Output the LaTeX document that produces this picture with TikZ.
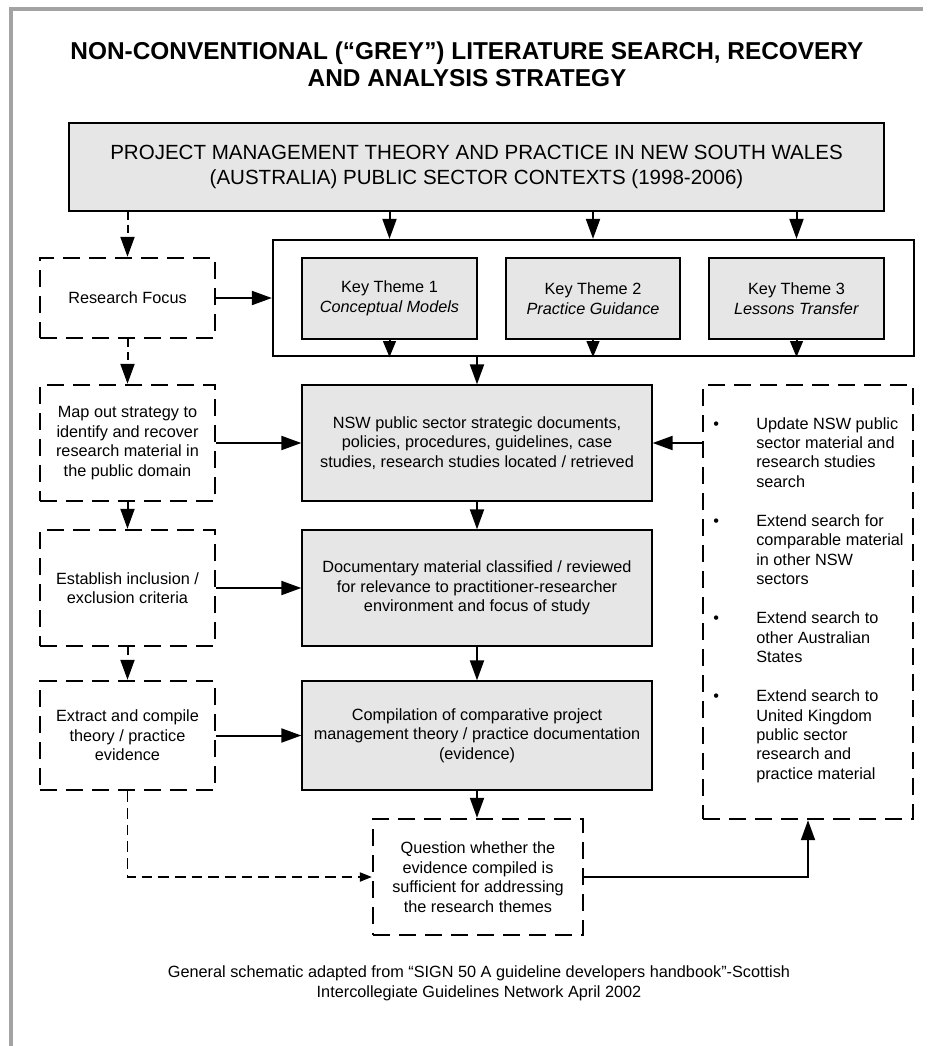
\documentclass[tikz,border=0pt]{standalone}
\usepackage{fontspec}
\setmainfont{Liberation Sans}
\usetikzlibrary{arrows.meta}
\newdimen\pxu \pxu=0.75pt
\definecolor{boxfill}{HTML}{E6E6E6}
\definecolor{framegray}{HTML}{A3A3A3}
\newcommand\bul{\llap{\makebox[43\pxu][l]{•}}}
\tikzset{
  bodytext/.style={font=\fontsize{12.2pt}{14.6pt}\selectfont},
  sz/.style 2 args={minimum width=#1*\pxu, minimum height=#2*\pxu},
  greybox/.style={draw, fill=boxfill, line width=1pt, inner sep=0pt, align=center, bodytext},
  headbox/.style={draw, fill=boxfill, line width=1.5pt, inner sep=0pt, align=center,
    font=\fontsize{15.4pt}{18.75pt}\selectfont},
  groupbox/.style={draw, fill=white, line width=1.7pt, inner sep=0pt},
  dbox/.style={draw, fill=white, line width=1.8pt, dash pattern=on 13pt off 6.5pt,
    inner sep=0pt, align=center, bodytext},
  >={Triangle[length=15pt,width=10.5pt]},
  conn/.style={line width=1.5pt, ->},
  dconn/.style={conn, dash pattern=on 6pt off 3.5pt},
  ktconn/.style={line width=1.5pt, -{Triangle[length=12pt,width=9.5pt]}},
  thinconn/.style={line width=0.9pt, dash pattern=on 8pt off 4.5pt,
    -{Triangle[length=9pt,width=7pt]}},
}
\begin{document}
\begin{tikzpicture}[x=0.75pt, y=-0.75pt]
\useasboundingbox (0,0) rectangle (933,1046);
% page frame
\draw[framegray, line width=3pt] (11,1046) -- (11,9) -- (923,9);

% title
\node[font=\fontsize{18.3pt}{20.5pt}\selectfont\bfseries, align=center] (title) at (467,64.5)
  {NON-CONVENTIONAL (“GREY”) LITERATURE SEARCH, RECOVERY\\AND ANALYSIS STRATEGY};

% heading box
\node[headbox, sz={815}{88}] (top) at (476.5,167)
  {PROJECT MANAGEMENT THEORY AND PRACTICE IN NEW SOUTH WALES\\(AUSTRALIA) PUBLIC SECTOR CONTEXTS (1998-2006)};

% key themes group
\node[groupbox, sz={641}{116}] (themes) at (593.5,298) {};
\node[greybox, sz={175}{81}] (kt1) at (389.5,298.5) {Key Theme 1\\\textit{Conceptual Models}};
\node[greybox, sz={174}{81}] (kt2) at (593,298.5) {Key Theme 2\\\textit{Practice Guidance}};
\node[greybox, sz={175}{81}] (kt3) at (796.5,298.5) {Key Theme 3\\\textit{Lessons Transfer}};

% left column (dashed)
\node[dbox, sz={175}{80}] (rf) at (127.5,298) {Research Focus};
\node[dbox, sz={175}{116}] (map) at (127.5,443)
  {Map out strategy to\\identify and recover\\research material in\\the public domain};
\node[dbox, sz={175}{116}] (est) at (127.5,588) {Establish inclusion /\\exclusion criteria};
\node[dbox, sz={175}{109}] (ext) at (127.5,735.5) {Extract and compile\\theory / practice\\evidence};

% centre column
\node[greybox, sz={350}{116}] (nsw) at (477,443)
  {NSW public sector strategic documents,\\policies, procedures, guidelines, case\\studies, research studies located / retrieved};
\node[greybox, sz={350}{116}] (doc) at (477,588)
  {Documentary material classified / reviewed\\for relevance to practitioner-researcher\\environment and focus of study};
\node[greybox, sz={350}{109}] (comp) at (477,735.5)
  {Compilation of comparative project\\management theory / practice documentation\\(evidence)};
\node[dbox, sz={210}{116}] (q) at (478,877)
  {Question whether the\\evidence compiled is\\sufficient for addressing\\the research themes};

% right column
\node[dbox, sz={210}{434}] (right) at (808,602) {};
\node[bodytext, align=left, anchor=west, inner sep=0pt] (rlist) at (756,600) {%
  \bul Update NSW public\\sector material and\\research studies\\search\\[14.6pt]
  \bul Extend search for\\comparable material\\in other NSW\\sectors\\[14.6pt]
  \bul Extend search to\\other Australian\\States\\[14.6pt]
  \bul Extend search to\\United Kingdom\\public sector\\research and\\practice material};

% footer
\node[bodytext, align=center] (note) at (479,983.5)
  {General schematic adapted from “SIGN 50 A guideline developers handbook”-Scottish\\Intercollegiate Guidelines Network April 2002};

% connectors
\draw[conn] (kt1 |- top.south) -- (kt1 |- themes.north);
\draw[conn] (kt2 |- top.south) -- (kt2 |- themes.north);
\draw[conn] (kt3 |- top.south) -- (kt3 |- themes.north);
\draw[ktconn] (kt1.south) -- (kt1 |- themes.south);
\draw[ktconn] (kt2.south) -- (kt2 |- themes.south);
\draw[ktconn] (kt3.south) -- (kt3 |- themes.south);
\draw[conn] (nsw |- themes.south) -- (nsw.north);

\draw[dconn] (rf |- top.south) -- (rf.north);
\draw[dconn] (rf.south) -- (map.north);
\draw[dconn] (map.south) -- (est.north);
\draw[dconn] (est.south) -- (ext.north);

\draw[conn] (rf.east) -- (themes.west);
\draw[conn] (map.east) -- (nsw.west);
\draw[conn] (est.east) -- (doc.west);
\draw[conn] (ext.east) -- (comp.west);

\draw[conn] (nsw.south) -- (doc.north);
\draw[conn] (doc.south) -- (comp.north);
\draw[conn] (comp.south) -- (comp.south |- q.north);

\draw[conn] (right.west |- nsw.east) -- (nsw.east);
\draw[conn] (q.east) -| (right.south);
\draw[thinconn] (ext.south) |- (q.west);
\end{tikzpicture}
\end{document}
